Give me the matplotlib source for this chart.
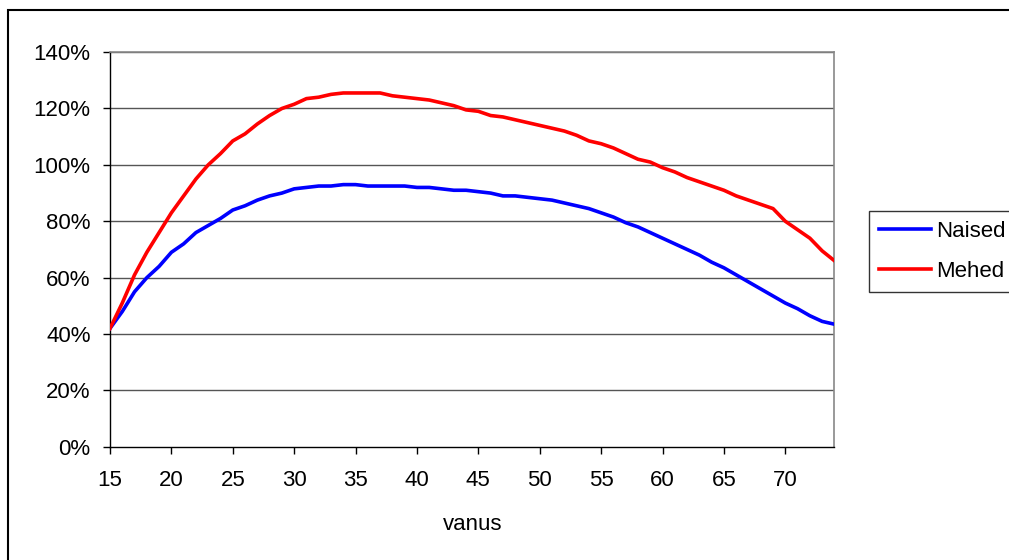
import matplotlib.pyplot as plt
from matplotlib.patches import Rectangle
from matplotlib.ticker import FuncFormatter

plt.rcParams['font.family'] = ['Liberation Sans', 'DejaVu Sans']

# ages
vanus = list(range(15, 75))

naised = [42, 48, 55, 60, 64, 69, 72, 76, 78.5, 81,
          84, 85.5, 87.5, 89, 90, 91.5, 92, 92.5, 92.5, 93,
          93, 92.5, 92.5, 92.5, 92.5, 92, 92, 91.5, 91, 91,
          90.5, 90, 89, 89, 88.5, 88, 87.5, 86.5, 85.5, 84.5,
          83, 81.5, 79.5, 78, 76, 74, 72, 70, 68, 65.5,
          63.5, 61, 58.5, 56, 53.5, 51, 49, 46.5, 44.5, 43.5]

mehed = [42, 51, 61, 69, 76, 83, 89, 95, 100, 104,
         108.5, 111, 114.5, 117.5, 120, 121.5, 123.5, 124, 125, 125.5,
         125.5, 125.5, 125.5, 124.5, 124, 123.5, 123, 122, 121, 119.5,
         119, 117.5, 117, 116, 115, 114, 113, 112, 110.5, 108.5,
         107.5, 106, 104, 102, 101, 99, 97.5, 95.5, 94, 92.5,
         91, 89, 87.5, 86, 84.5, 80, 77, 74, 69.5, 66]

fig = plt.figure(figsize=(10.09, 5.6), dpi=100)
ax = fig.add_axes([0.109, 0.202, 0.718, 0.705])

# chart border
fig.patches.append(Rectangle((8 / 1009, -0.1), 1.2, 1 - 10 / 560 + 0.1,
                             transform=fig.transFigure, fill=False,
                             edgecolor='black', linewidth=1.5))

for y in range(20, 141, 20):
    ax.axhline(y, color='#555555', linewidth=1, zorder=1)

ax.plot(vanus, naised, color='#0000ff', linewidth=2.6, label='Naised', zorder=3)
ax.plot(vanus, mehed, color='#ff0000', linewidth=2.6, label='Mehed', zorder=3)

ax.set_xlim(15, 74)
ax.set_ylim(0, 140)
ax.set_xticks(range(15, 75, 5))
ax.set_yticks(range(0, 141, 20))
ax.yaxis.set_major_formatter(FuncFormatter(lambda v, p: '{:.0f}%'.format(v)))
ax.tick_params(axis='both', labelsize=16, direction='out', length=5, width=1, color='black')
ax.tick_params(axis='x', pad=12)
ax.tick_params(axis='y', pad=9)

for s in ['top', 'right']:
    ax.spines[s].set_color('#888888')
    ax.spines[s].set_linewidth(1.2)
for s in ['left', 'bottom']:
    ax.spines[s].set_color('black')
    ax.spines[s].set_linewidth(1)

ax.set_xlabel('vanus', fontsize=16, labelpad=16)

leg = fig.legend(loc='upper left', bbox_to_anchor=(869 / 1009, 1 - 211 / 560),
                 fontsize=16, frameon=True, fancybox=False, handlelength=2.35,
                 handletextpad=0.22, borderpad=0.45, labelspacing=0.85, borderaxespad=0)
leg.get_frame().set_edgecolor('black')
leg.get_frame().set_linewidth(1)

fig.savefig('out.png', dpi=100)
